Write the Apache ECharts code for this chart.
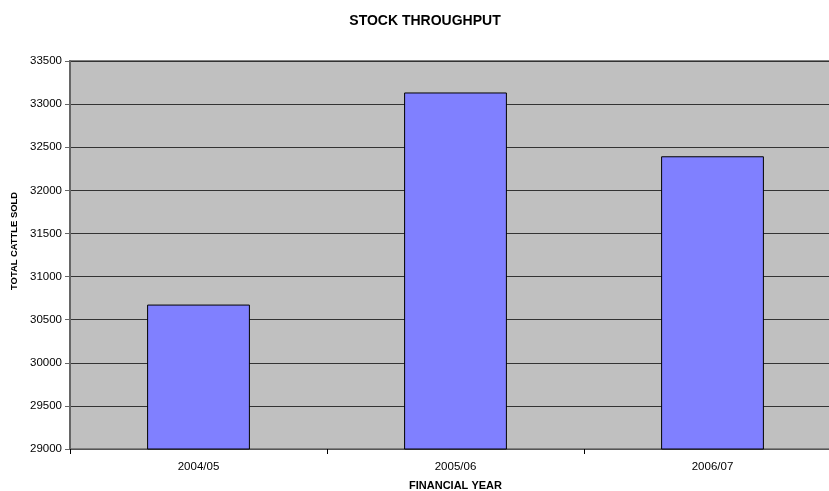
<!DOCTYPE html>
<html>
<head>
<meta charset="utf-8">
<script src="https://cdn.jsdelivr.net/npm/echarts@6/dist/echarts.min.js"></script>
<style>html,body{margin:0;padding:0;background:#fff}#c{width:829px;height:491px}</style>
</head>
<body>
<div id="c"></div>
<script>
var categories = ['2004/05', '2005/06', '2006/07'];
var cattleSold = [30675, 33135, 32395];
var chart = echarts.init(document.getElementById('c'), null, {renderer: 'canvas'});
var font = 'Liberation Sans, Arial, sans-serif';
chart.setOption({
  animation: false,
  title: {
    text: 'STOCK THROUGHPUT',
    left: 420, top: 9, textAlign: 'center',
    textStyle: {fontFamily: font, fontSize: 14, fontWeight: 'bold', color: '#000'}
  },
  grid: {
    left: 70, top: 61, width: 771, height: 388,
    outerBoundsMode: 'none', containLabel: false,
    show: true, backgroundColor: '#c0c0c0', borderColor: '#808080', borderWidth: 2
  },
  xAxis: {
    type: 'category', data: categories,
    name: 'FINANCIAL YEAR', nameLocation: 'middle', nameGap: 31,
    nameTextStyle: {fontFamily: font, fontSize: 11, fontWeight: 'bold', color: '#000'},
    axisLine: {lineStyle: {color: '#555', width: 1}},
    axisTick: {show: true, alignWithLabel: false, length: 5, lineStyle: {color: '#000'}},
    axisLabel: {fontFamily: font, fontSize: 11.5, color: '#000', margin: 12}
  },
  yAxis: {
    type: 'value', min: 29000, max: 33500, interval: 500,
    name: 'TOTAL CATTLE SOLD', nameLocation: 'middle', nameGap: 49, nameRotate: 90,
    nameTextStyle: {fontFamily: font, fontSize: 9.4, fontWeight: 'bold', color: '#000', padding: [0, 0, 0, 28]},
    axisLine: {show: true, lineStyle: {color: '#666', width: 2}},
    axisTick: {show: true, length: 5, lineStyle: {color: '#666'}},
    axisLabel: {fontFamily: font, fontSize: 11.5, color: '#000', margin: 8,
      formatter: function (v) { return String(v); }},
    splitLine: {lineStyle: {color: '#333', width: 1}}
  },
  series: [{
    type: 'bar', data: cattleSold, barWidth: '40%',
    itemStyle: {color: '#8080ff', borderColor: '#000', borderWidth: 1}
  }]
});
</script>
</body>
</html>
